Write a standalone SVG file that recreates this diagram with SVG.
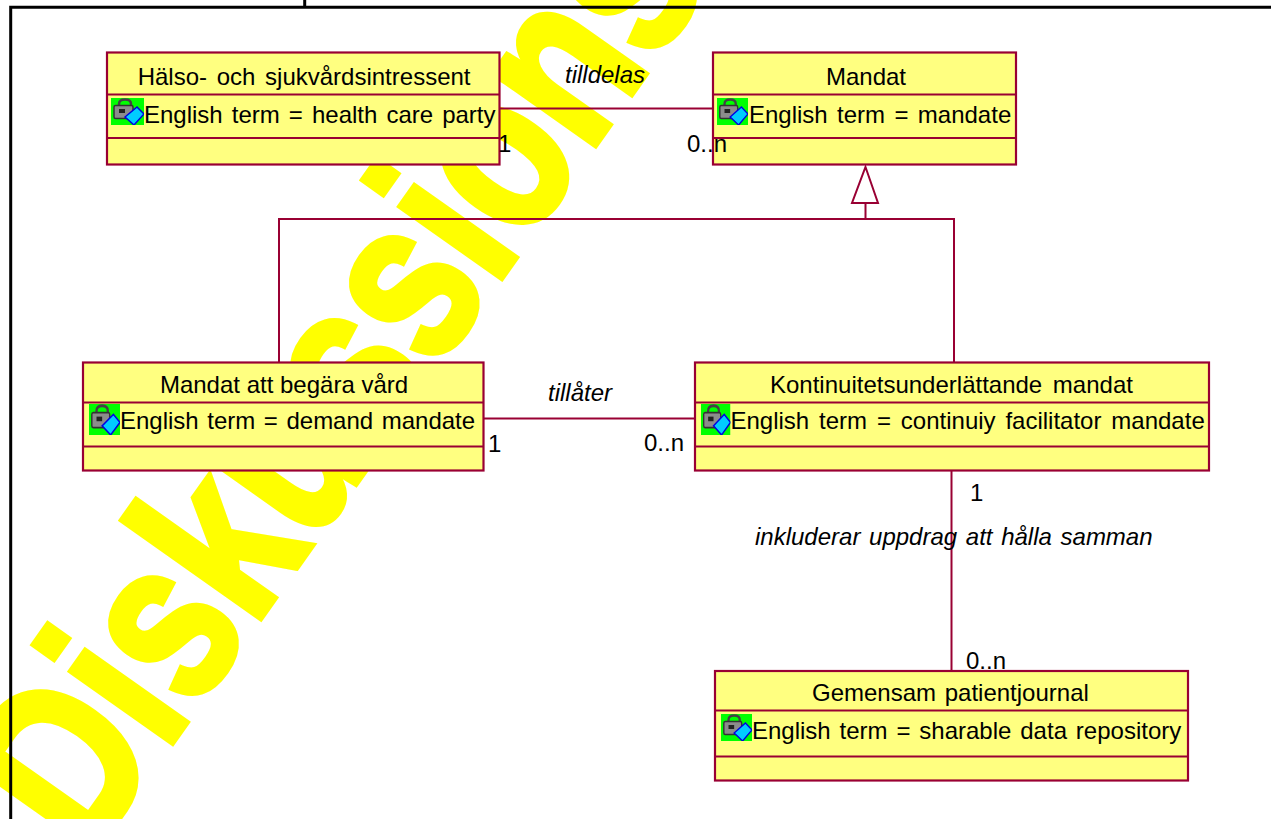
<svg xmlns="http://www.w3.org/2000/svg" width="1271" height="819" viewBox="0 0 1271 819">
<style>
text{font-family:"Liberation Sans",Arial,sans-serif;font-size:24px;fill:#000}
.t{text-anchor:middle}
.i{font-style:italic}
.wm{font-weight:bold;font-size:233px;fill:#ffff00;stroke:#ffff00;stroke-width:7;stroke-linejoin:miter}
.box{fill:#ffff80;stroke:#990033;stroke-width:2.2}
.div{fill:none;stroke:#990033;stroke-width:2}
.c{fill:none;stroke:#990033;stroke-width:2}
.f{fill:none;stroke:#000;stroke-width:3}
</style>
<defs>
<symbol id="icon" viewBox="0 0 33 27" preserveAspectRatio="none">
<rect width="33" height="27" fill="#00ff00"/>
<path d="M8 8V6Q8 1.500 14 1.500T20 6V8" fill="none" stroke="#444" stroke-width="2.500"/>
<rect x="3" y="7.500" width="19" height="13" rx="1.500" fill="#8c8c8c" stroke="#333" stroke-width="1.500"/>
<rect x="8" y="11" width="6" height="4" fill="#222"/>
<path d="M14 19 26 9 33 16 23 27Z" fill="#00ccff" stroke="#0000e0" stroke-width="1.500"/>
</symbol>
</defs>
<rect width="1271" height="819" fill="#fff"/>
<text class="wm" transform="translate(88.300 860.700) rotate(-54.700) scale(.785 1)">Diskussions</text>
<g id="frame"><path class="f" d="M10.700 819V7.300H1271M304.700 0V7.300"/></g>
<g id="connectors">
<path class="c" d="M499 108.500H713"/>
<path class="c" d="M483 418.500H695"/>
<path class="c" d="M951.500 471V671"/>
<path class="c" d="M279 362V219H954V362M865.500 219V203"/>
<path class="c" d="M865.500 167L878 203H852Z" fill="#fff"/>
</g>
<g id="halso">
<rect class="box" x="107" y="52.500" width="392.500" height="112"/>
<path class="div" d="M107 94.500H499.500M107 138H499.500"/>
<text x="137.700" y="85" word-spacing="3">Hälso- och sjukvårdsintressent</text>
<use href="#icon" x="111" y="98" width="33" height="27"/>
<text x="144" y="123" word-spacing="2.400">English term = health care party</text>
</g>
<g id="mandat">
<rect class="box" x="713" y="52.500" width="303" height="112"/>
<path class="div" d="M713 94.500H1016M713 138H1016"/>
<text class="t" x="866" y="85">Mandat</text>
<use href="#icon" x="717" y="98" width="31" height="27"/>
<text x="749" y="123" word-spacing="2.700">English term = mandate</text>
</g>
<g id="begara">
<rect class="box" x="83" y="362.500" width="400.500" height="108"/>
<path class="div" d="M83 402.500H483.500M83 446.500H483.500"/>
<text class="t" x="284" y="392.500">Mandat att begära vård</text>
<use href="#icon" x="89" y="404" width="31" height="31"/>
<text x="120" y="428.500" word-spacing="1.900">English term = demand mandate</text>
</g>
<g id="kontinuitet">
<rect class="box" x="695" y="362.500" width="514" height="108"/>
<path class="div" d="M695 402.500H1209M695 446.500H1209"/>
<text x="770" y="392.500" word-spacing="4">Kontinuitetsunderlättande mandat</text>
<use href="#icon" x="701" y="404" width="29.500" height="31"/>
<text x="730.500" y="428.500" word-spacing="3.200">English term = continuiy facilitator mandate</text>
</g>
<g id="gemensam">
<rect class="box" x="715" y="671" width="473" height="109.500"/>
<path class="div" d="M715 710.500H1188M715 756.500H1188"/>
<text x="812" y="700.500" word-spacing="2">Gemensam patientjournal</text>
<use href="#icon" x="721" y="714" width="31" height="27"/>
<text x="752" y="738.500" word-spacing="2.200">English term = sharable data repository</text>
</g>
<g id="labels">
<text class="i" x="565" y="83">tilldelas</text>
<text x="498" y="152">1</text>
<text x="687" y="152">0..n</text>
<text class="i" x="548" y="401">tillåter</text>
<text x="488" y="452">1</text>
<text x="644" y="451">0..n</text>
<text x="970" y="501">1</text>
<text class="i" x="755" y="545" word-spacing="2">inkluderar uppdrag att hålla samman</text>
<text x="966" y="669">0..n</text>
</g>
</svg>
